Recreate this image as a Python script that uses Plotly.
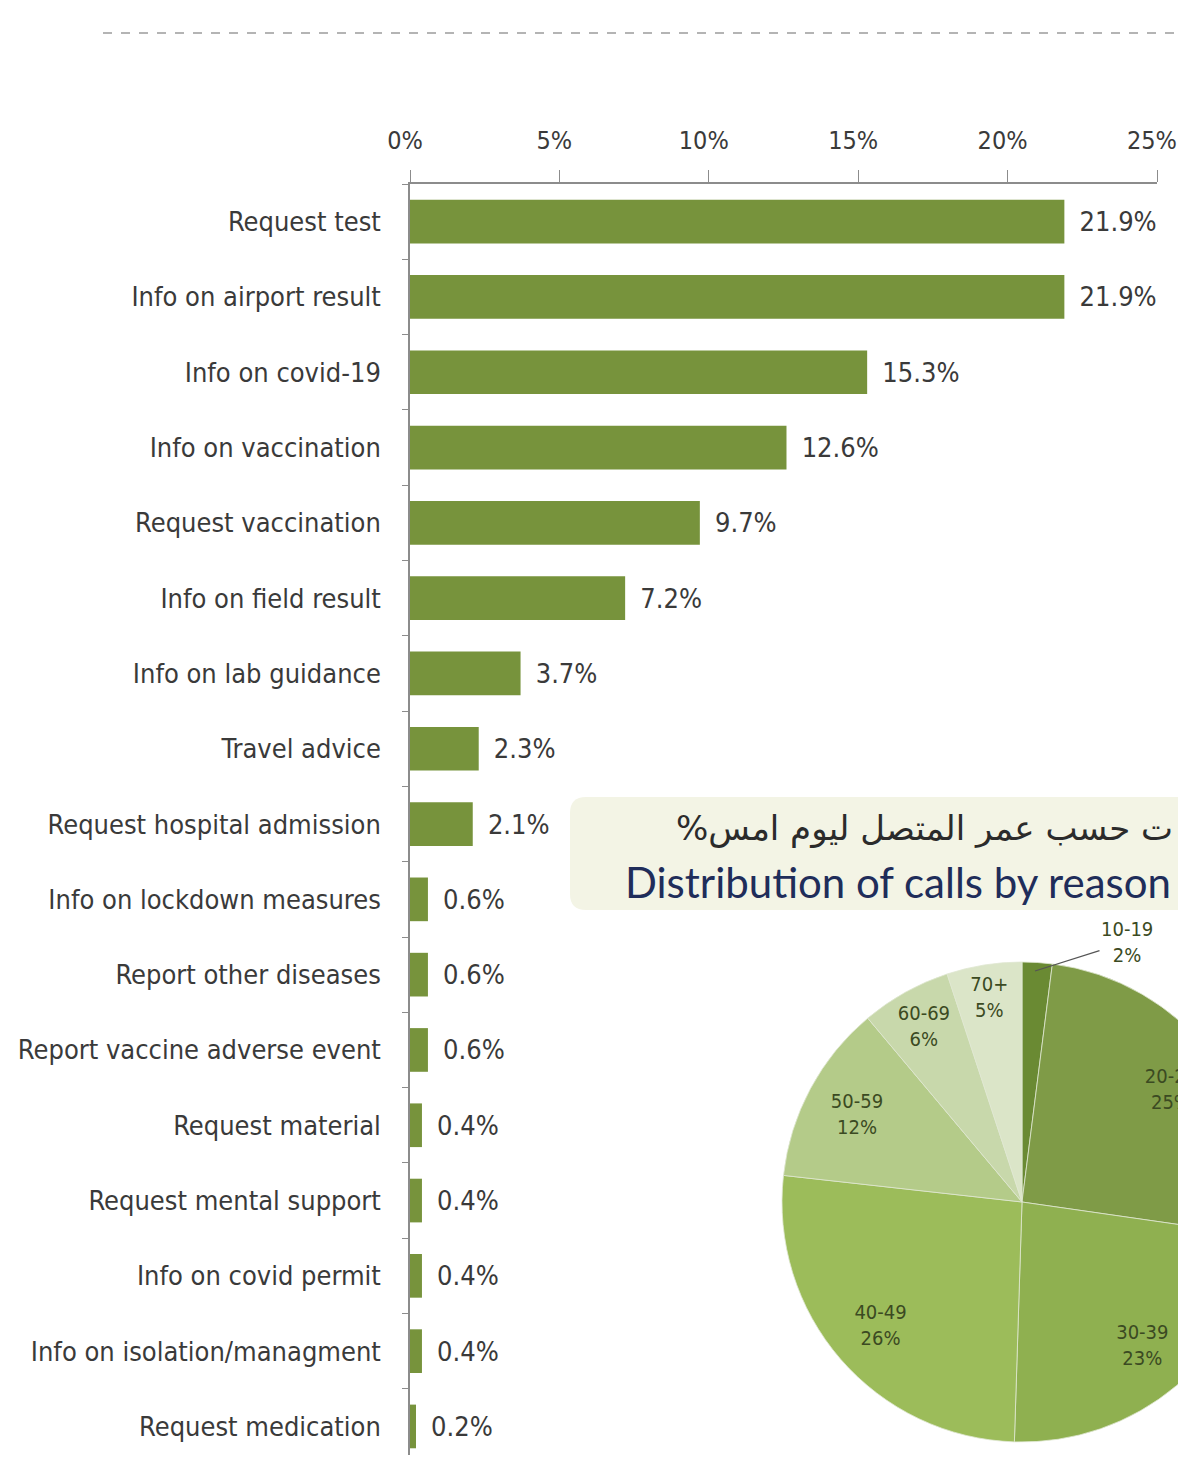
import plotly.graph_objects as go

# ---------------- data ----------------
reasons = [
    "Request test", "Info on airport result", "Info on covid-19", "Info on vaccination",
    "Request vaccination", "Info on field result", "Info on lab guidance", "Travel advice",
    "Request hospital admission", "Info on lockdown measures", "Report other diseases",
    "Report vaccine adverse event", "Request material", "Request mental support",
    "Info on covid permit", "Info on isolation/managment", "Request medication",
]
reason_pct = [21.9, 21.9, 15.3, 12.6, 9.7, 7.2, 3.7, 2.3, 2.1, 0.6, 0.6, 0.6, 0.4, 0.4, 0.4, 0.4, 0.2]
x_ticks = [0, 5, 10, 15, 20, 25]
x_ticklabels = ["0%", "5%", "10%", "15%", "20%", "25%"]

age_groups = ["10-19", "20-29", "30-39", "40-49", "50-59", "60-69", "70+"]
age_pct = [2, 25, 23, 26, 12, 6, 5]

title_ar = "ت حسب عمر المتصل ليوم امس%\u200F"
title_en = "Distribution of calls by reason"

# ---------------- layout helpers ----------------
W, H = 1270, 1447
OFF = 8  # page body margin
ROW = 75.3  # px per category row
AXIS_TOP = 184


def px(x):
    return (x - OFF) / W


def py(y):
    return 1 - (y - OFF) / H


BAR_COLOR = "#77933c"
TEXT_COLOR = "#3a3a3a"
FONT = "DejaVu Sans Condensed, Liberation Sans Narrow, sans-serif"
PIE_FONT = dict(family="DejaVu Sans Condensed, DejaVu Sans", size=20, color="#3b4a22")

fig = go.Figure()

fig.add_trace(go.Bar(
    x=reason_pct,
    y=reasons,
    orientation="h",
    marker=dict(color=BAR_COLOR, line=dict(width=0)),
    width=0.58,
    texttemplate="\u2002%{x:.1f}%",
    textposition="outside",
    constraintext="none",
    cliponaxis=False,
    textfont=dict(family=FONT, size=27, color=TEXT_COLOR),
    showlegend=False,
    hoverinfo="skip",
))

pie_domain = dict(x=[px(782), px(1262)], y=[py(1442), py(962)])
pie_colors = ["#6a8a33", "#7f9b47", "#8fb050", "#9cbc5a", "#b4cb89", "#c8d8ab", "#dbe5c8"]
fig.add_trace(go.Pie(
    labels=age_groups,
    values=age_pct,
    sort=False,
    direction="clockwise",
    rotation=0,
    marker=dict(colors=pie_colors, line=dict(color="#dfe7d2", width=0.8)),
    textinfo="none",
    domain=pie_domain,
    showlegend=False,
    hoverinfo="skip",
))
# transparent ring carrying the slice labels (places them toward the rim)
fig.add_trace(go.Pie(
    labels=age_groups,
    values=age_pct,
    sort=False,
    direction="clockwise",
    rotation=0,
    hole=0.56,
    marker=dict(colors=["rgba(0,0,0,0)"] * len(age_groups), line=dict(width=0)),
    texttemplate="%{label}<br>%{value}%",
    textposition=["none"] + ["inside"] * 6,
    insidetextorientation="horizontal",
    textfont=PIE_FONT,
    domain=pie_domain,
    showlegend=False,
    hoverinfo="skip",
))

fig.update_xaxes(
    side="top",
    domain=[px(410), px(1157)],
    range=[0, 25],
    tickvals=x_ticks,
    ticktext=x_ticklabels,
    ticks="outside",
    ticklen=12,
    tickcolor="#8c8c8c",
    showline=True,
    linecolor="#8c8c8c",
    linewidth=1.5,
    showgrid=False,
    zeroline=False,
    automargin=False,
    ticklabelstandoff=11,
    ticklabelshift=-5,
    tickfont=dict(family=FONT, size=25, color=TEXT_COLOR),
    fixedrange=True,
)
fig.update_yaxes(
    domain=[0, py(AXIS_TOP)],
    type="category",
    categoryorder="array",
    categoryarray=reasons,
    range=[-0.5 + (OFF + H - AXIS_TOP) / ROW, -0.5],
    ticks="outside",
    tickson="boundaries",
    ticklen=6,
    tickcolor="#8c8c8c",
    showline=True,
    linecolor="#8c8c8c",
    linewidth=1.5,
    showgrid=False,
    automargin=False,
    ticklabelstandoff=22,
    tickfont=dict(family=FONT, size=27, color=TEXT_COLOR),
    fixedrange=True,
)

# rounded title box
x0, x1, y0, y1, r = 570, 1290, 797, 910, 16
box_path = (
    f"M {px(x0 + r)},{py(y0)} L {px(x1)},{py(y0)} L {px(x1)},{py(y1)} "
    f"L {px(x0 + r)},{py(y1)} Q {px(x0)},{py(y1)} {px(x0)},{py(y1 - r)} "
    f"L {px(x0)},{py(y0 + r)} Q {px(x0)},{py(y0)} {px(x0 + r)},{py(y0)} Z"
)
fig.add_shape(type="path", path=box_path, xref="paper", yref="paper",
              fillcolor="#f3f4e5", line=dict(width=0), layer="below")

# top dashed rule
fig.add_shape(type="line", xref="paper", yref="paper",
              x0=px(103), x1=px(1200), y0=py(33), y1=py(33),
              line=dict(color="#b4b4b4", width=2, dash="dash"))

fig.add_annotation(text=title_ar, xref="paper", yref="paper",
                   x=px(1175), y=py(828), xanchor="right", yanchor="middle",
                   showarrow=False,
                   font=dict(family="DejaVu Sans", size=34, color="#2b2b2b"))
fig.add_annotation(text=title_en, xref="paper", yref="paper",
                   x=px(623), y=py(882), xanchor="left", yanchor="middle",
                   showarrow=False,
                   font=dict(family="Lato, Open Sans, sans-serif", size=42, color="#1f2d5a"))

# label of the smallest pie slice, with its leader line
fig.add_annotation(text=f"{age_groups[0]}<br>{age_pct[0]}%", xref="paper", yref="paper",
                   x=px(1035), y=py(971),
                   ax=92, ay=-29, axref="pixel", ayref="pixel",
                   showarrow=True, arrowhead=0, arrowwidth=1.3, arrowcolor="#555555",
                   standoff=0, startstandoff=0,
                   font=PIE_FONT)

fig.update_layout(
    width=W, height=H,
    margin=dict(l=0, r=0, t=0, b=0),
    paper_bgcolor="white",
    plot_bgcolor="white",
    bargap=0.42,
)

fig.write_html("out.html")
